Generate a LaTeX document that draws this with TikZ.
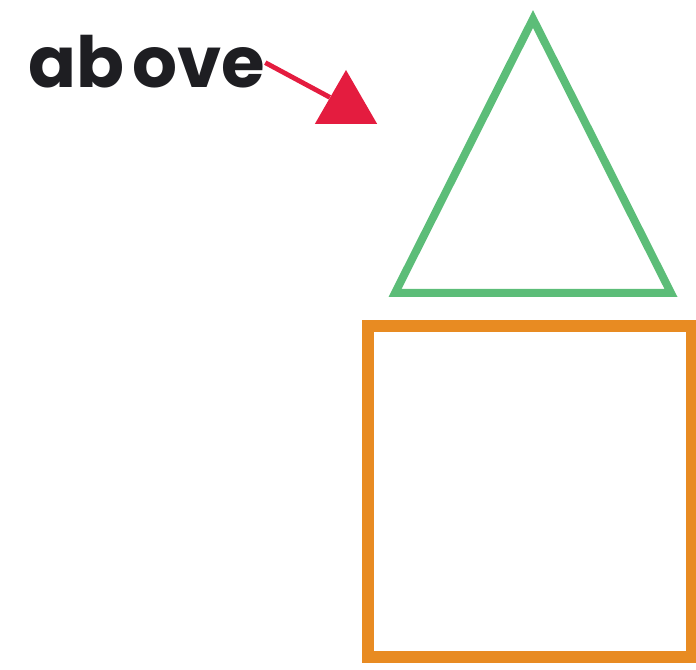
\documentclass[tikz,border=0pt]{standalone}
\usepackage{fontspec}
\usepackage{xcolor}
\newfontfamily\labelfont{Poppins}
\definecolor{tipred}{HTML}{E41C3F}
\definecolor{roofgreen}{HTML}{5CBD78}
\definecolor{boxorange}{HTML}{E88B22}
\definecolor{inkgray}{HTML}{1E1E22}
\usetikzlibrary{arrows.meta,positioning,shapes.geometric}

\begin{document}
\begin{tikzpicture}[x=0.75pt, y=-0.75pt,
    caption/.style={inner sep=0pt, text=inkgray, font=\labelfont\bfseries\fontsize{53}{57}\selectfont},
    tiphead/.style={regular polygon, regular polygon sides=3, fill=tipred, minimum size=54pt, inner sep=0pt},
    pointer/.style={tipred, line width=3.6pt},
    roof/.style={roofgreen, line width=6pt, line join=miter},
    walls/.style={boxorange, line width=9pt}
]
    \useasboundingbox (0,0) rectangle (696,670);
    \node[caption, anchor=base west] (lbl) at (28,88) {ab\kern6pt ove};
    \node[tiphead] (tip) at (346,106) {};
    \draw[pointer] ([yshift=19pt]lbl.base east) -- (tip);
    % triangle and square
    \draw[roof] (533,19) -- (671,293) -- (395,293) -- cycle;
    \draw[walls] (368,326) rectangle (692,657);
\end{tikzpicture}
\end{document}
